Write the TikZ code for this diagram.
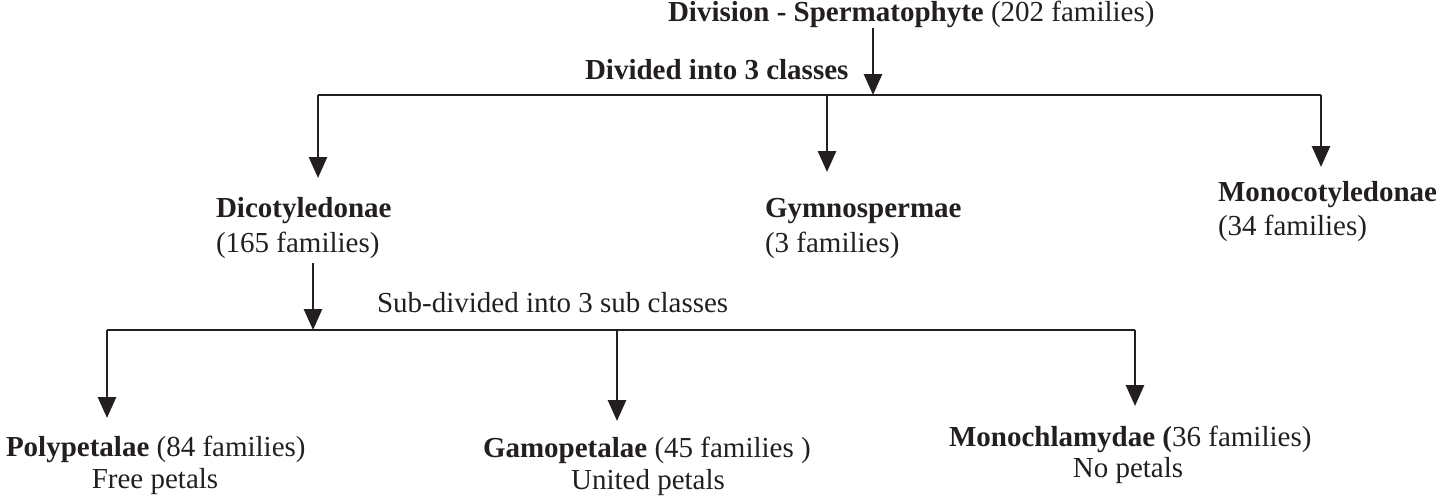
\documentclass[tikz,border=0pt]{standalone}
\usepackage{fontspec}
\setmainfont{Liberation Serif}
\usetikzlibrary{arrows.meta}
\definecolor{ink}{HTML}{231F20}
\begin{document}
\begin{tikzpicture}[x=0.5pt,y=-0.5pt,
  lbl/.style={inner sep=0pt,outer sep=0pt,text=ink,font=\fontsize{14.5}{17}\selectfont},
  lw/.style={lbl,anchor=base west},
  lc/.style={lbl,anchor=base},
  wire/.style={draw=ink,line width=1.4pt},
  arr/.style={wire,-{Triangle[length=10.5pt,width=9pt]}}]
\useasboundingbox (0,0) rectangle (1445,503);
% texts
\node[lw] (top) at (668,21) {\textbf{Division - Spermatophyte} (202 families)};
\node[lw] (div3) at (585,79) {\textbf{Divided into 3 classes}};
\node[lw] (dico) at (216,217) {\textbf{Dicotyledonae}};
\node[lw] (dicof) at (216,252) {(165 families)};
\node[lw] (gymno) at (765,217) {\textbf{Gymnospermae}};
\node[lw] (gymnof) at (765,252) {(3 families)};
\node[lw] (mono) at (1218,201) {\textbf{Monocotyledonae}};
\node[lw] (monof) at (1218,235) {(34 families)};
\node[lw] (sub) at (377,312) {Sub-divided into 3 sub classes};
\node[lw] (poly) at (6,456) {\textbf{Polypetalae} (84 families)};
\node[lc] (polyf) at (155,488) {Free petals};
\node[lw] (gamo) at (483,457) {\textbf{Gamopetalae} (45 families )};
\node[lc] (gamof) at (648,489) {United petals};
\node[lw] (monoch) at (949,446) {\textbf{Monochlamydae (}36 families)};
\node[lc] (monochf) at (1128,477) {No petals};
% junction coordinates
\coordinate (s1) at (873,28);
\coordinate (j1) at (873,95);
\coordinate (l1) at (318,95);
\coordinate (m1) at (827,95);
\coordinate (r1) at (1321,95);
\coordinate (tdico) at (318,178);
\coordinate (tgymno) at (827,172);
\coordinate (tmono) at (1321,167);
\coordinate (s2) at (313,263);
\coordinate (j2) at (313,330);
\coordinate (l2) at (107,330);
\coordinate (m2) at (617,330);
\coordinate (r2) at (1135,330);
\coordinate (tpoly) at (107,418);
\coordinate (tgamo) at (617,421);
\coordinate (tmonoch) at (1135,406);
% connectors
\draw[arr] (s1) -- (j1);
\draw[wire] (l1) -- (r1);
\draw[arr] (l1) -- (tdico);
\draw[arr] (m1) -- (tgymno);
\draw[arr] (r1) -- (tmono);
\draw[arr] (s2) -- (j2);
\draw[wire] (l2) -- (r2);
\draw[arr] (l2) -- (tpoly);
\draw[arr] (m2) -- (tgamo);
\draw[arr] (r2) -- (tmonoch);
\end{tikzpicture}
\end{document}
